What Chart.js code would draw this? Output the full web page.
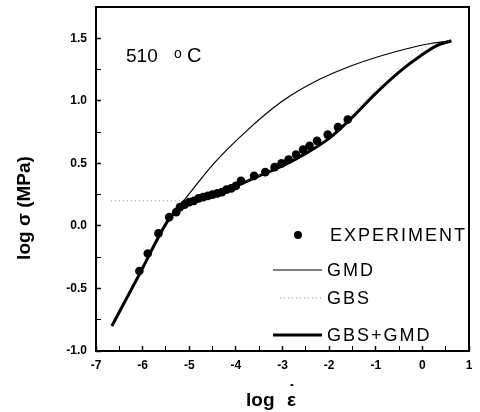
<!DOCTYPE html>
<html>
<head>
<meta charset="utf-8">
<script src="https://cdn.jsdelivr.net/npm/chart.js@4.4.0/dist/chart.umd.min.js"></script>
<style>
  html,body{margin:0;padding:0;background:#fff;}
  canvas{display:block;}
</style>
</head>
<body>
<canvas id="chart" width="480" height="412"></canvas>
<script>
// ---- data (log strain rate vs log stress) ----
const expX = [-6.07,-5.89,-5.66,-5.43,-5.28,-5.20,-5.10,-5.00,-4.90,-4.80,-4.70,-4.60,-4.50,-4.40,-4.30,-4.20,-4.10,-4.00,-3.89,-3.61,-3.37,-3.17,-3.02,-2.87,-2.71,-2.56,-2.42,-2.26,-2.03,-1.81,-1.60];
const expY = [-0.36,-0.22,-0.06,0.07,0.11,0.15,0.17,0.19,0.20,0.22,0.23,0.24,0.25,0.26,0.27,0.29,0.30,0.32,0.36,0.40,0.43,0.47,0.50,0.53,0.57,0.61,0.64,0.68,0.73,0.79,0.85];

const gmdX = [-6.66,-6.06,-5.46,-5.1,-4.47,-3.74,-3.03,-2.32,-1.59,-0.88,-0.18,0.2,0.62];
const gmdY = [-0.80,-0.38,0.04,0.21,0.50,0.77,0.99,1.15,1.27,1.36,1.43,1.46,1.48];

const gbsX = [-6.68,-6.0,-5.5,-5.0,-4.5,-4.0,-3.5,-3.0,-2.5,-2.0,-1.5,-1.0,-0.5,0.0,0.3,0.62];
const gbsY = [0.20,0.20,0.20,0.21,0.25,0.32,0.40,0.49,0.60,0.73,0.90,1.09,1.27,1.42,1.46,1.48];

const sumX = [-6.66,-6.06,-5.46,-5.3,-5.0,-4.5,-4.0,-3.5,-3.0,-2.5,-2.0,-1.5,-1.0,-0.5,0.0,0.3,0.62];
const sumY = [-0.80,-0.38,0.04,0.11,0.18,0.25,0.32,0.40,0.48,0.58,0.70,0.87,1.06,1.23,1.37,1.44,1.48];

const xTicks = [-7,-6,-5,-4,-3,-2,-1,0,1];
const yTicks = [-1.0,-0.5,0.0,0.5,1.0,1.5];

const FONT = '"Liberation Sans", Arial, Helvetica, sans-serif';

const pts = (xs, ys) => xs.map((x,i)=>({x, y: ys[i]}));

const decor = {
  id:'decor',
  afterDraw(chart){
    const {ctx, chartArea:a} = chart;
    ctx.save();
    // frame
    ctx.strokeStyle = '#000';
    ctx.lineWidth = 2;
    ctx.strokeRect(a.left, a.top, a.right - a.left, a.bottom - a.top);

    ctx.fillStyle = '#000';
    ctx.textAlign = 'left';
    ctx.textBaseline = 'alphabetic';
    // temperature label
    ctx.font = '19px ' + FONT;
    ctx.fillText('510', 126, 62);
    ctx.font = '14px ' + FONT;
    ctx.fillText('o', 174, 58);
    ctx.font = '20px ' + FONT;
    ctx.fillText('C', 187, 62);

    // axis titles
    ctx.font = 'bold 19px ' + FONT;
    ctx.fillText('log', 246, 406);
    ctx.fillText('\u03B5', 287, 406);
    ctx.textAlign = 'center';
    ctx.fillText('\u02D9', 292, 398);
    ctx.textBaseline = 'middle';
    ctx.save();
    ctx.translate(25, 208);
    ctx.rotate(-Math.PI/2);
    ctx.fillText('log \u03C3 (MPa)', 0, 0);
    ctx.restore();

    // legend
    const ds = chart.data.datasets;
    ctx.font = '18px ' + FONT;
    ctx.textAlign = 'left';
    ctx.letterSpacing = '2px';
    const rows = [235, 270, 298, 335];
    ds.forEach((d, i)=>{
      const y = rows[i];
      if(d.showLine === false){
        ctx.beginPath();
        ctx.fillStyle = d.backgroundColor;
        ctx.arc(298, y, 4, 0, Math.PI*2);
        ctx.fill();
      } else {
        ctx.beginPath();
        ctx.strokeStyle = d.borderColor;
        ctx.lineWidth = d.borderWidth;
        ctx.setLineDash(d.borderDash || []);
        ctx.moveTo(i === 2 ? 280 : 273, y);
        ctx.lineTo(322, y);
        ctx.stroke();
        ctx.setLineDash([]);
      }
      ctx.fillStyle = '#000';
      ctx.fillText(d.label, d.showLine === false ? 330 : 327, y + 1);
    });
    ctx.restore();
  }
};

new Chart(document.getElementById('chart'), {
  type:'scatter',
  data:{
    datasets:[
      { label:'EXPERIMENT', data: pts(expX, expY), showLine:false,
        pointRadius:4.3, pointBackgroundColor:'#000', backgroundColor:'#000', pointBorderWidth:0 },
      { label:'GMD', data: pts(gmdX, gmdY), showLine:true, borderColor:'#000', borderWidth:1.2,
        pointRadius:0, cubicInterpolationMode:'monotone' },
      { label:'GBS', data: pts(gbsX, gbsY), showLine:true, borderColor:'#999', borderWidth:1,
        borderDash:[1,3], pointRadius:0, cubicInterpolationMode:'monotone' },
      { label:'GBS+GMD', data: pts(sumX, sumY), showLine:true, borderColor:'#000', borderWidth:3,
        pointRadius:0, cubicInterpolationMode:'monotone' }
    ]
  },
  options:{
    responsive:false,
    animation:false,
    events:[],
    layout:{ padding:{ left:0, right:11, top:7, bottom:0 } },
    plugins:{ legend:{ display:false }, tooltip:{ enabled:false } },
    scales:{
      x:{
        type:'linear', min:-7, max:1,
        border:{ display:false },
        grid:{ drawOnChartArea:false, drawTicks:true, tickLength:-5, tickColor:'#000',
               tickWidth: c => Number.isInteger(c.tick.value) ? 1.5 : 1 },
        ticks:{ stepSize:0.5, autoSkip:false, maxRotation:0, padding:12, color:'#000',
                font:{ family:FONT, size:12, weight:'bold' },
                callback: v => xTicks.includes(v) ? String(v) : '' },
        afterFit: s => { s.height = 61; s.paddingLeft = 0; s.paddingRight = 0; }
      },
      y:{
        type:'linear', min:-1.0, max:1.75,
        border:{ display:false },
        grid:{ drawOnChartArea:false, drawTicks:true, tickLength:-5, tickColor:'#000',
               tickWidth: c => yTicks.some(t => Math.abs(t - c.tick.value) < 1e-6) ? 1.5 : 1 },
        ticks:{ stepSize:0.25, autoSkip:false, padding:14, color:'#000',
                font:{ family:FONT, size:12, weight:'bold' },
                callback: v => yTicks.some(t => Math.abs(t - v) < 1e-6) ? v.toFixed(1) : '' },
        afterFit: s => { s.width = 96; s.paddingTop = 0; s.paddingBottom = 0; }
      }
    }
  },
  plugins:[decor]
});
</script>
</body>
</html>
